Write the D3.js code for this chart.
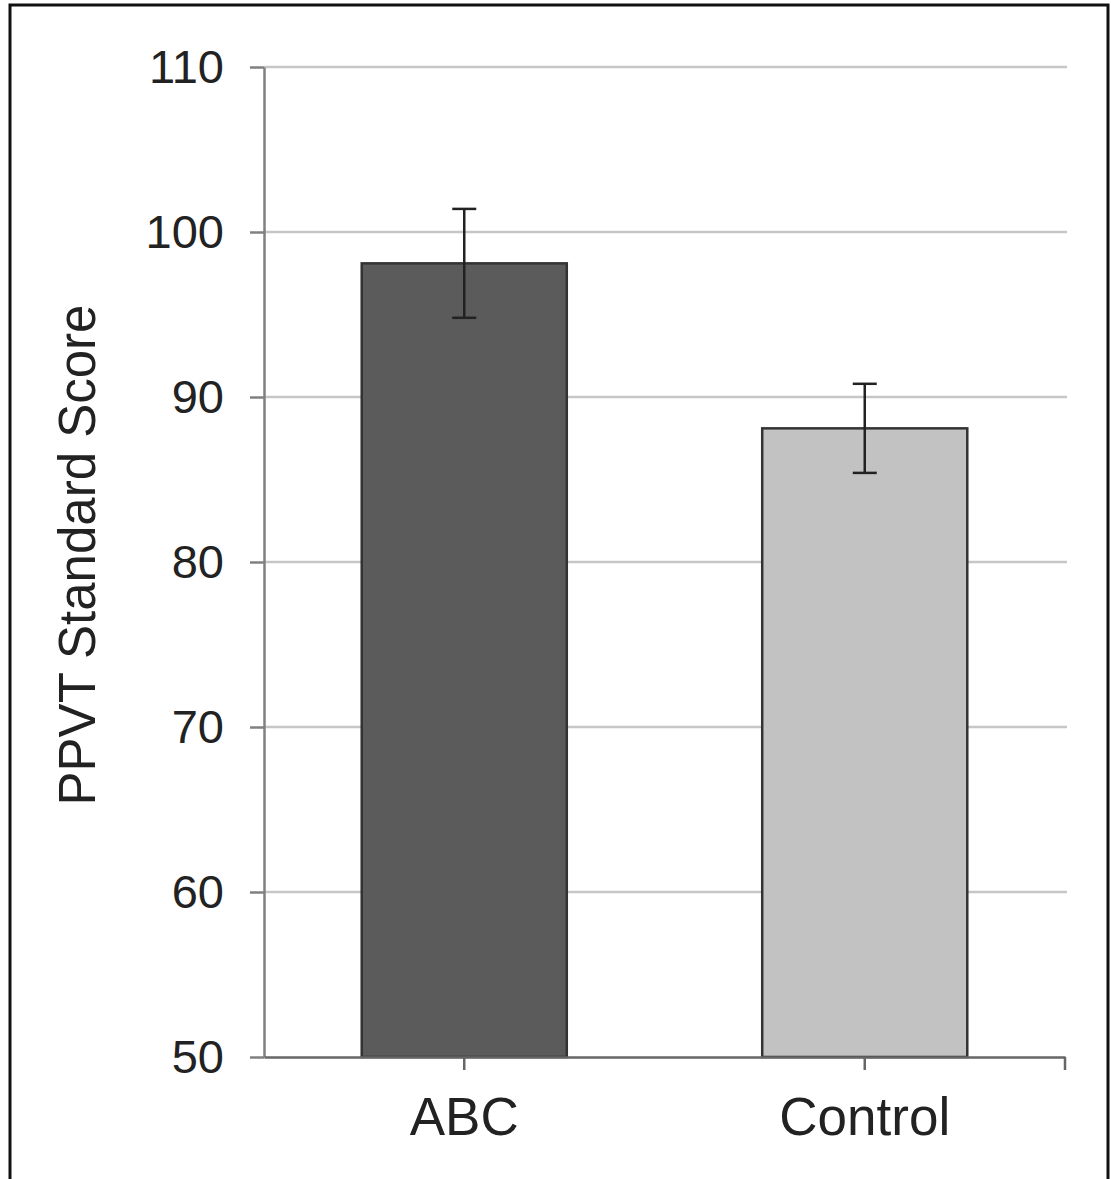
<!DOCTYPE html>
<html>
<head>
<meta charset="utf-8">
<script src="https://cdn.jsdelivr.net/npm/d3@7"></script>
<style>
  body { margin: 0; background: #fff; }
  svg { display: block; font-family: "Liberation Sans", Arial, sans-serif; }
</style>
</head>
<body>
<svg id="chart" width="1111" height="1179"></svg>
<script>
// data
const groups = ["ABC", "Control"];
const means = [98.1, 88.1];
const errors = [3.3, 2.7];
const barColors = ["#5b5b5b", "#c2c2c2"];
const yTicks = [50, 60, 70, 80, 90, 100, 110];
const yTitle = "PPVT Standard Score";

const svg = d3.select("#chart");

// frame round the figure (bottom edge is cut off in the original)
svg.append("rect")
  .attr("x", 10).attr("y", 5)
  .attr("width", 1098).attr("height", 1250)
  .attr("fill", "none")
  .attr("stroke", "#111")
  .attr("stroke-width", 3);

// plot area edges ("top" is taken by window.top, so prefix them)
const plotLeft = 264, plotRight = 1065, plotTop = 67, plotBottom = 1057;

const x = d3.scaleBand()
  .domain(groups)
  .range([plotLeft, plotRight])
  .paddingInner(0.488)
  .paddingOuter(0.244);

const y = d3.scaleLinear()
  .domain([50, 110])
  .range([plotBottom, plotTop]);

// gridlines
svg.append("g")
  .selectAll("line")
  .data(yTicks.filter(t => t > 50))
  .join("line")
  .attr("x1", plotLeft).attr("x2", plotRight + 2)
  .attr("y1", d => y(d)).attr("y2", d => y(d))
  .attr("stroke", "#c6c6c6")
  .attr("stroke-width", 2.5);

// bars
const rows = groups.map((g, i) => ({ g: g, m: means[i], e: errors[i], c: barColors[i] }));

svg.append("g")
  .selectAll("rect")
  .data(rows)
  .join("rect")
  .attr("x", d => x(d.g))
  .attr("y", d => y(d.m))
  .attr("width", x.bandwidth())
  .attr("height", d => y(50) - y(d.m))
  .attr("fill", d => d.c)
  .attr("stroke", "#333")
  .attr("stroke-width", 2.5);

// error bars
const eb = svg.append("g")
  .attr("stroke", "#222")
  .attr("stroke-width", 2.5);

rows.forEach(d => {
  let cx = x(d.g) + x.bandwidth() / 2;
  eb.append("line")
    .attr("x1", cx).attr("x2", cx)
    .attr("y1", y(d.m + d.e)).attr("y2", y(d.m - d.e));
  [d.m + d.e, d.m - d.e].forEach(v => {
    eb.append("line")
      .attr("x1", cx - 12).attr("x2", cx + 12)
      .attr("y1", y(v)).attr("y2", y(v));
  });
});

// y axis
const yAxis = svg.append("g")
  .attr("transform", `translate(${plotLeft},0)`)
  .call(d3.axisLeft(y).tickValues(yTicks).tickSize(14).tickSizeOuter(0).tickPadding(26));

yAxis.select(".domain").attr("stroke", "#808080").attr("stroke-width", 2.5);
yAxis.selectAll(".tick line").attr("stroke", "#808080").attr("stroke-width", 2.5);
yAxis.selectAll(".tick text")
  .attr("font-size", 47)
  .attr("fill", "#222")
  .attr("dy", "0.34em");

// x axis, ticks under each bar and one at the right end
const xAxis = svg.append("g")
  .attr("transform", `translate(0,${plotBottom})`)
  .call(d3.axisBottom(x).tickSize(13).tickSizeOuter(0).tickPadding(27));

xAxis.select(".domain").attr("stroke", "#666").attr("stroke-width", 2.5);
xAxis.selectAll(".tick line").attr("stroke", "#666").attr("stroke-width", 2.5);
xAxis.append("line")
  .attr("x1", plotRight).attr("x2", plotRight)
  .attr("y1", 0).attr("y2", 13)
  .attr("stroke", "#666").attr("stroke-width", 2.5);
xAxis.selectAll(".tick text")
  .attr("font-size", 53)
  .attr("fill", "#222");

// y title
svg.append("text")
  .attr("transform", "translate(95,555) rotate(-90)")
  .attr("text-anchor", "middle")
  .attr("font-size", 51)
  .attr("fill", "#222")
  .text(yTitle);
</script>
</body>
</html>
